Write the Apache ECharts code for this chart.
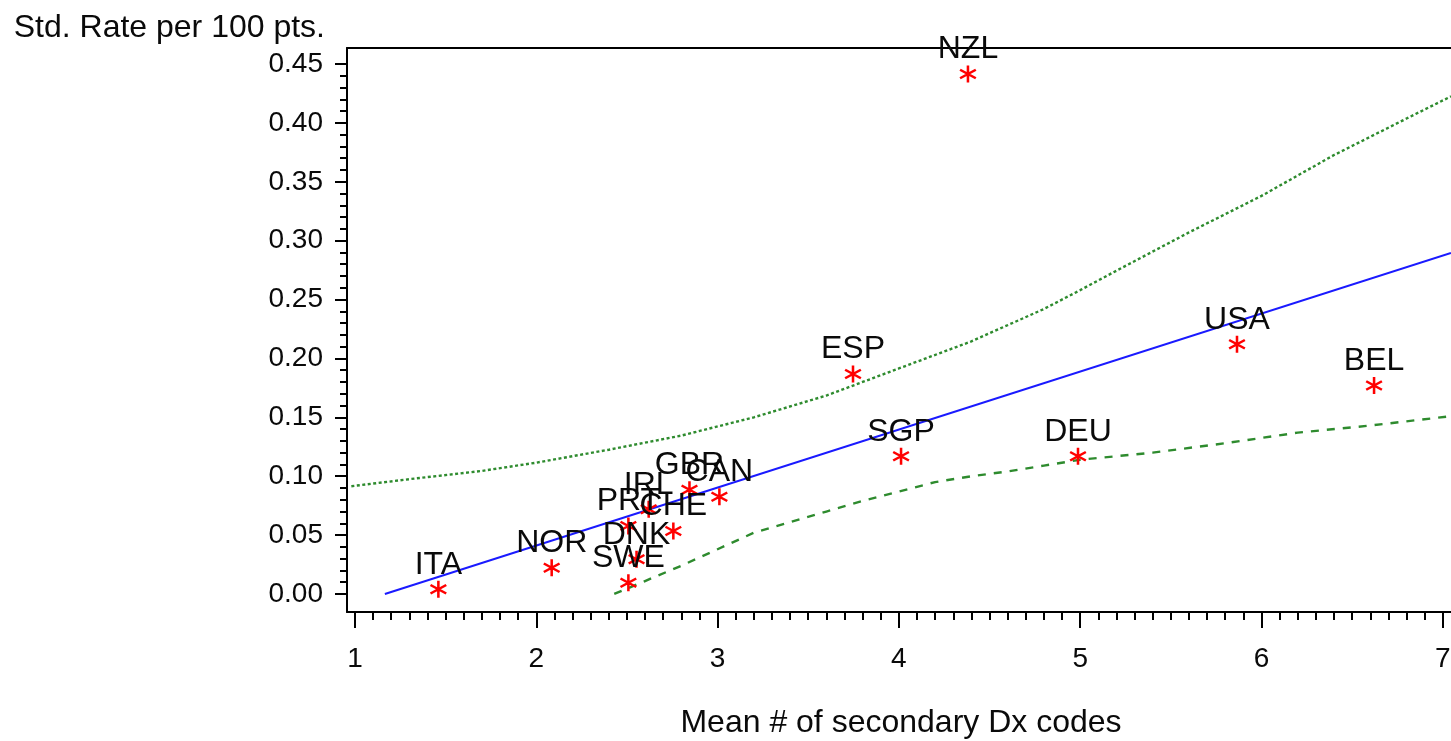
<!DOCTYPE html>
<html>
<head>
<meta charset="utf-8">
<title>Std. Rate vs Mean # of secondary Dx codes</title>
<script src="https://cdn.jsdelivr.net/npm/echarts@6/dist/echarts.min.js"></script>
<style>
  html, body { margin: 0; padding: 0; background: #fff; }
  #chart { width: 1451px; height: 741px; }
</style>
</head>
<body>
<div id="chart"></div>
<script>
// Country observations
const countries = ['ITA', 'NOR', 'SWE', 'DNK', 'PRT', 'IRL', 'CHE', 'GBR', 'CAN', 'ESP', 'SGP', 'NZL', 'DEU', 'USA', 'BEL'];
const meanDx   = [1.46, 2.085, 2.508, 2.553, 2.508, 2.62, 2.756, 2.845, 3.01, 3.747, 4.012, 4.381, 4.988, 5.865, 6.621];
const stdRate  = [0.004, 0.0223, 0.0096, 0.0295, 0.0577, 0.072, 0.0535, 0.0885, 0.0825, 0.1868, 0.117, 0.4415, 0.117, 0.212, 0.177];

// Fitted regression line
const fitX = [1.165, 7.045];
const fitY = [0.0, 0.2895];

// Upper confidence limit
const upperX = [0.98, 1.3, 1.7, 2.0, 2.4, 2.8, 3.2, 3.6, 3.8, 4.0, 4.4, 4.8, 5.0, 5.2, 5.6, 6.0, 6.4, 6.8, 7.045];
const upperY = [0.0915, 0.0975, 0.1045, 0.1115, 0.1225, 0.1345, 0.150, 0.1685, 0.180, 0.1915, 0.2145, 0.242, 0.258, 0.2745, 0.307, 0.338, 0.3727, 0.4037, 0.4225];

// Lower confidence limit
const lowerX = [2.43, 2.6, 2.8, 3.0, 3.2, 3.4, 3.6, 3.8, 4.0, 4.2, 4.4, 4.6, 4.8, 5.0, 5.4, 5.8, 6.2, 6.6, 7.045];
const lowerY = [0.0, 0.011, 0.024, 0.038, 0.052, 0.061, 0.070, 0.079, 0.087, 0.095, 0.100, 0.104, 0.109, 0.114, 0.120, 0.128, 0.137, 0.143, 0.151];

// Axis ticks
const xTicks = [1, 2, 3, 4, 5, 6, 7];
const yTicks = [0, 0.05, 0.10, 0.15, 0.20, 0.25, 0.30, 0.35, 0.40, 0.45];

const xMinorTicks = [];
for (let i = 10; i <= 70; i++) { if (i % 10 !== 0) xMinorTicks.push(i / 10); }
const yMinorTicks = [];
for (let i = 0; i <= 45; i++) { if (i % 5 !== 0) yMinorTicks.push(i / 100); }

const FONT = 'Liberation Sans, Arial, sans-serif';
const INK = '#0a0a0a';
const GREEN = '#2e8b2e';

// Plot box runs slightly past the right edge of the canvas
const GRID_LEFT = 347, GRID_RIGHT = -30;
const PX_PER_UNIT = 181.3;
const X_MIN = 0.956;
const X_MAX = X_MIN + (1451 - GRID_RIGHT - GRID_LEFT) / PX_PER_UNIT;
const Y_MIN = -0.0153, Y_MAX = 0.4636;

// Six-armed asterisk marker (all sub-paths share the same winding)
const asterisk = 'path://M43 0 L57 0 L57 100 L43 100 Z ' +
  'M3.2 68.9 L89.8 18.9 L96.8 31.1 L10.2 81.1 Z ' +
  'M10.2 18.9 L96.8 68.9 L89.8 81.1 L3.2 31.1 Z';

const zip = (xs, ys) => xs.map((x, i) => [x, ys[i]]);

const chart = echarts.init(document.getElementById('chart'), null, { renderer: 'canvas' });

const minorTickStyle = { color: '#000', width: 2 };

chart.setOption({
  animation: false,
  backgroundColor: '#fff',
  grid: { left: GRID_LEFT, top: 48, right: GRID_RIGHT, bottom: 129, containLabel: false, outerBoundsMode: 'none' },
  xAxis: [
    {
      type: 'value', min: X_MIN, max: X_MAX, position: 'bottom',
      name: 'Mean # of secondary Dx codes', nameLocation: 'middle', nameGap: 111,
      nameTextStyle: { fontFamily: FONT, fontSize: 32, color: INK, verticalAlign: 'middle',
                       padding: [0, 26, 0, 0] },
      axisLine: { show: true, onZero: false, lineStyle: { color: '#000', width: 2 } },
      axisTick: { show: true, customValues: xTicks, length: 16, lineStyle: { color: '#000', width: 2 } },
      axisLabel: { show: true, customValues: xTicks, margin: 33, fontFamily: FONT, fontSize: 28, color: INK,
                   formatter: v => String(v) },
      splitLine: { show: false }
    },
    {
      type: 'value', min: X_MIN, max: X_MAX, position: 'bottom',
      axisLine: { show: false, onZero: false },
      axisTick: { show: true, customValues: xMinorTicks, length: 8, lineStyle: minorTickStyle },
      axisLabel: { show: false },
      splitLine: { show: false }
    },
    {
      type: 'value', min: X_MIN, max: X_MAX, position: 'top',
      axisLine: { show: true, onZero: false, lineStyle: { color: '#000', width: 2 } },
      axisTick: { show: false }, axisLabel: { show: false }, splitLine: { show: false }
    }
  ],
  yAxis: [
    {
      type: 'value', min: Y_MIN, max: Y_MAX, position: 'left',
      name: 'Std. Rate per 100 pts.', nameLocation: 'end', nameGap: 20,
      nameTextStyle: { fontFamily: FONT, fontSize: 32, color: INK, align: 'right', verticalAlign: 'middle',
                       padding: [0, 22, 0, 0] },
      axisLine: { show: true, onZero: false, lineStyle: { color: '#000', width: 2 } },
      axisTick: { show: true, customValues: yTicks, length: 12, lineStyle: { color: '#000', width: 2 } },
      axisLabel: { show: true, customValues: yTicks, margin: 24, fontFamily: FONT, fontSize: 28, color: INK,
                   formatter: v => v.toFixed(2) },
      splitLine: { show: false }
    },
    {
      type: 'value', min: Y_MIN, max: Y_MAX, position: 'left',
      axisLine: { show: false, onZero: false },
      axisTick: { show: true, customValues: yMinorTicks, length: 7, lineStyle: minorTickStyle },
      axisLabel: { show: false },
      splitLine: { show: false }
    }
  ],
  series: [
    {
      name: 'Upper limit', type: 'line', xAxisIndex: 0, yAxisIndex: 0,
      data: zip(upperX, upperY), showSymbol: false, smooth: false,
      lineStyle: { color: GREEN, width: 2.4, type: [3, 2.5] }, z: 2
    },
    {
      name: 'Lower limit', type: 'line', xAxisIndex: 0, yAxisIndex: 0,
      data: zip(lowerX, lowerY), showSymbol: false, smooth: false,
      lineStyle: { color: GREEN, width: 2.4, type: [8, 8] }, z: 2
    },
    {
      name: 'Fit', type: 'line', xAxisIndex: 0, yAxisIndex: 0,
      data: zip(fitX, fitY), showSymbol: false,
      lineStyle: { color: '#1a1aff', width: 2 }, z: 2
    },
    {
      name: 'Countries', type: 'scatter', xAxisIndex: 0, yAxisIndex: 0,
      symbol: asterisk, symbolSize: [17, 17],
      itemStyle: { color: '#ff0000', opacity: 1 },
      data: countries.map((c, i) => ({ name: c, value: [meanDx[i], stdRate[i]] })),
      label: {
        show: true, position: 'top', distance: 0, formatter: '{b}',
        fontFamily: FONT, fontSize: 32, color: INK, opacity: 1
      },
      z: 3
    }
  ]
});
</script>
</body>
</html>
